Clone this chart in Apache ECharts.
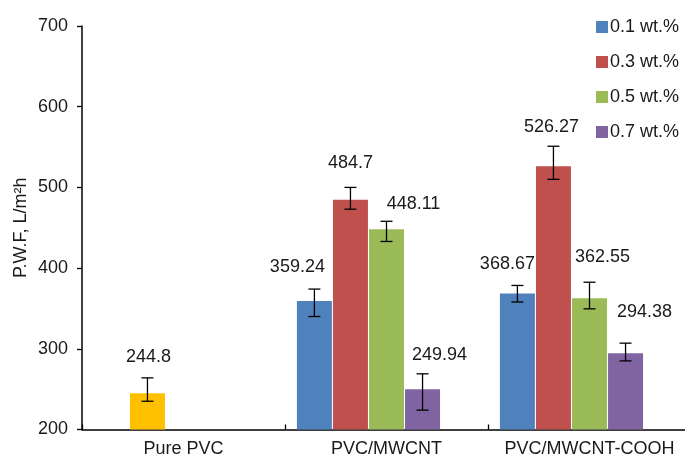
<!DOCTYPE html>
<html>
<head>
<meta charset="utf-8">
<script src="https://cdn.jsdelivr.net/npm/echarts@6/dist/echarts.min.js"></script>
<style>html,body{margin:0;padding:0;background:#fff;overflow:hidden;width:685px;height:460px;}#c{width:700px;height:460px;}</style>
</head>
<body>
<div id="c"></div>
<script>
// ---- data ----
const categories = ['Pure PVC', 'PVC/MWCNT', 'PVC/MWCNT-COOH'];
const seriesNames = ['0.1 wt.%', '0.3 wt.%', '0.5 wt.%', '0.7 wt.%'];
const yTicks = [200, 300, 400, 500, 600, 700];

const pureValue = 244.8;
const pureLow = 235;
const pureHigh = 264;

const v01 = [null, 359.24, 368.67];
const low01 = [null, 340, 358];
const high01 = [null, 374, 378.5];

const v03 = [null, 484.7, 526.27];
const low03 = [null, 473, 510];
const high03 = [null, 500, 551];

const v05 = [null, 448.11, 362.55];
const low05 = [null, 433, 349.5];
const high05 = [null, 458, 382.5];

const v07 = [null, 249.94, 294.38];
const low07 = [null, 224, 285];
const high07 = [null, 269, 307];

// ---- layout (label shifts: [dx, height of label centre above bar top]) ----
const pureLabelShift = [1, 36];
const labelShift = [
  [null, [-17, 34], [-10, 29]],
  [null, [0, 37], [-2, 39]],
  [null, [27, 25], [13, 41]],
  [null, [17, 34], [19, 41]]
];
const colors = ['#4F81BD', '#C0504D', '#9BBB59', '#8064A2'];
const pureColor = '#FFC000';
const BAR_W = 35;
const GAP_PCT = 3;
const SLOT_W = BAR_W * (1 + GAP_PCT / 100);
const FONT = "'Liberation Sans', Arial, sans-serif";
const TXT = '#1a1a1a';

const values = [v01, v03, v05, v07];
const lows = [low01, low03, low05, low07];
const highs = [high01, high03, high05, high07];

function mkLabel(shift) {
  return { show: true, position: 'top', distance: 5, offset: [shift[0], -(shift[1] - 14)],
    fontSize: 18, fontFamily: FONT, color: TXT, formatter: p => String(p.value) };
}

const barSeries = values.map((arr, s) => ({
  name: seriesNames[s],
  type: 'bar',
  barWidth: BAR_W,
  barGap: GAP_PCT + '%',
  itemStyle: { color: colors[s] },
  data: arr.map((v, i) => {
    if (s === 1 && i === 0) {
      return { value: pureValue, itemStyle: { color: pureColor }, label: mkLabel(pureLabelShift) };
    }
    if (v === null) return null;
    return { value: v, label: mkLabel(labelShift[s][i]) };
  })
}));
// empty fifth slot (present in the original grouping)
barSeries.push({ name: 'empty', type: 'bar', barWidth: BAR_W, barGap: GAP_PCT + '%', data: [null, null, null] });

const errData = [];
errData.push([0, pureLow, pureHigh, 1]);
for (let s = 0; s < 4; s++) {
  for (let i = 0; i < categories.length; i++) {
    if (values[s][i] !== null) errData.push([i, lows[s][i], highs[s][i], s]);
  }
}

const errSeries = {
  type: 'custom',
  name: 'err',
  z: 10,
  silent: true,
  data: errData,
  encode: { x: 0, y: [1, 2] },
  renderItem: function (params, api) {
    const cat = api.value(0), lo = api.value(1), hi = api.value(2), slot = api.value(3);
    const pLo = api.coord([cat, lo]);
    const pHi = api.coord([cat, hi]);
    const x = pLo[0] + (slot - 2) * SLOT_W;
    const hw = 6;
    const st = { stroke: '#000', lineWidth: 1.3 };
    return {
      type: 'group',
      children: [
        { type: 'line', shape: { x1: x, y1: pLo[1], x2: x, y2: pHi[1] }, style: st },
        { type: 'line', shape: { x1: x - hw, y1: pLo[1], x2: x + hw, y2: pLo[1] }, style: st },
        { type: 'line', shape: { x1: x - hw, y1: pHi[1], x2: x + hw, y2: pHi[1] }, style: st }
      ]
    };
  }
};

const chart = echarts.init(document.getElementById('c'));
chart.setOption({
  animation: false,
  backgroundColor: '#fff',
  textStyle: { fontFamily: FONT },
  grid: { left: 82, top: 26, width: 609, height: 403.5 },
  legend: {
    data: seriesNames,
    orient: 'vertical',
    left: 591, top: 13,
    itemWidth: 12, itemHeight: 12, itemGap: 17,
    icon: 'rect',
    textStyle: { fontSize: 18, fontFamily: FONT, color: TXT, padding: [0, 0, 0, -3] }
  },
  xAxis: {
    type: 'category',
    data: categories,
    axisLine: { lineStyle: { color: '#000', width: 1.5 } },
    axisTick: { show: true, inside: true, length: 5, interval: 0, lineStyle: { color: '#000', width: 1.3 } },
    axisLabel: { fontSize: 18, fontFamily: FONT, color: TXT, margin: 11, interval: 0 }
  },
  yAxis: {
    type: 'value',
    min: yTicks[0], max: yTicks[yTicks.length - 1], interval: 100,
    name: 'P.W.F, L/m²h',
    nameLocation: 'middle',
    nameGap: 52,
    nameMoveOverlap: false,
    nameTextStyle: { fontSize: 18, fontFamily: FONT, color: TXT },
    axisLine: { show: true, lineStyle: { color: '#000', width: 1.5 } },
    axisTick: { show: true, length: 5, lineStyle: { color: '#000', width: 1.3 } },
    splitLine: { show: false },
    axisLabel: { fontSize: 18, fontFamily: FONT, color: TXT, margin: 14 }
  },
  series: barSeries.concat([errSeries])
});
</script>
</body>
</html>
